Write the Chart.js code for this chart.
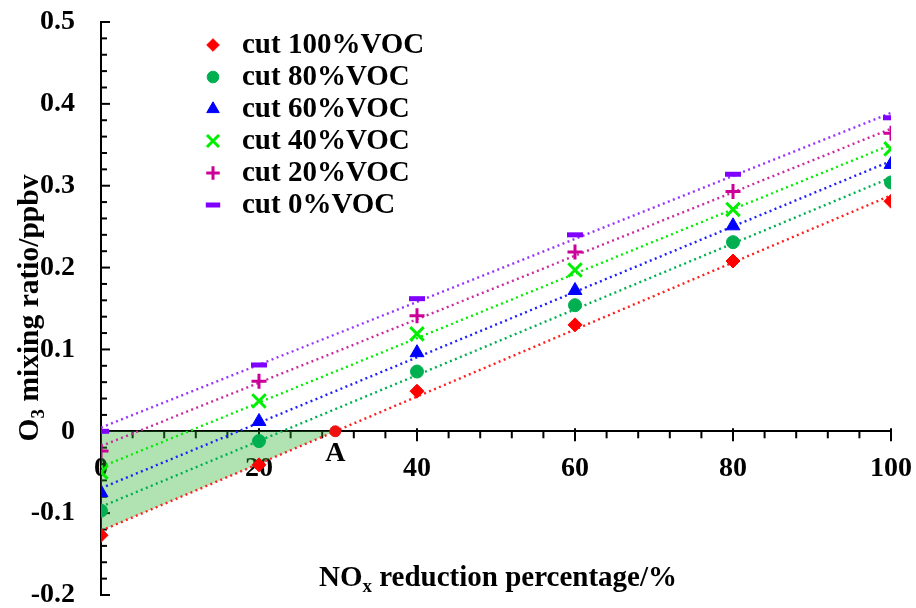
<!DOCTYPE html>
<html><head><meta charset="utf-8">
<script src="https://cdn.jsdelivr.net/npm/chart.js@4"></script>
<style>html,body{margin:0;padding:0;background:#fff}#wrap{width:916px;height:608px}</style>
</head><body><div id="wrap"><canvas id="c" width="916" height="608"></canvas></div>
<script>
// ---- data ----
const noxReduction = [0, 20, 40, 60, 80, 100];
const seriesNames = ['cut 100%VOC', 'cut 80%VOC', 'cut 60%VOC', 'cut 40%VOC', 'cut 20%VOC', 'cut 0%VOC'];
const cut100 = [-0.127, -0.041, 0.049, 0.130, 0.208, 0.281];
const cut80  = [-0.097, -0.012, 0.073, 0.154, 0.231, 0.304];
const cut60  = [-0.075,  0.012, 0.096, 0.172, 0.251, 0.326];
const cut40  = [-0.050,  0.037, 0.119, 0.197, 0.271, 0.345];
const cut20  = [-0.024,  0.061, 0.141, 0.219, 0.293, 0.364];
const cut0   = [ 0.000,  0.081, 0.162, 0.240, 0.314, 0.383];
const xTickStep = 20;
const yTickStep = 0.1;
const pointLabel = 'A';

// ---- styles ----
const FONT = "'Liberation Serif','Times New Roman',serif";
const styles = [
  {color:'#ff0000', line:'#ff2020', pointStyle:'rectRot', radius:7, bw:1},
  {color:'#00b050', line:'#00b050', pointStyle:'circle', radius:6.5, bw:1},
  {color:'#0000ff', line:'#2020ff', pointStyle:'triangle', radius:8, bw:1},
  {color:'#00ee00', line:'#00ee00', pointStyle:'crossRot', radius:9.5, bw:3},
  {color:'#cc0099', line:'#cc2aa0', pointStyle:'cross', radius:7.5, bw:3},
  {color:'#7f00ff', line:'#9933ff', pointStyle:'line', radius:8, bw:5}
];
const allSeries = [cut100, cut80, cut60, cut40, cut20, cut0];

function linearFit(xs, ys){
  const n = xs.length;
  const mx = xs.reduce((a,b)=>a+b,0)/n, my = ys.reduce((a,b)=>a+b,0)/n;
  let sxy=0, sxx=0;
  for(let i=0;i<n;i++){ sxy += (xs[i]-mx)*(ys[i]-my); sxx += (xs[i]-mx)*(xs[i]-mx); }
  const m = sxy/sxx; return {m, b: my - m*mx};
}

const datasets = [];
const fits = allSeries.map(s => linearFit(noxReduction, s));
const redFit = fits[0];
const xA = -redFit.b / redFit.m;

// shaded triangle under zero bounded by the cut 100% trend line
datasets.push({type:'line', data:[{x:0,y:redFit.b},{x:xA,y:0}], fill:'origin',
  backgroundColor:'rgba(40,175,40,0.36)', borderWidth:0, pointRadius:0, order:100});

allSeries.forEach((s, i) => {
  const st = styles[i], f = fits[i];
  const x0 = noxReduction[0], x1 = noxReduction[noxReduction.length-1];
  datasets.push({type:'line', data:[{x:x0,y:f.b+f.m*x0},{x:x1,y:f.b+f.m*x1}],
    borderColor: st.line, borderWidth: 2.4, borderDash:[2,3.4], borderCapStyle:'butt',
    pointRadius:0, fill:false, order:50});
  datasets.push({type:'scatter', label: seriesNames[i], data: noxReduction.map((x,j)=>({x, y:s[j]})),
    showLine:false, pointStyle: st.pointStyle, pointRadius: st.radius, pointHoverRadius: st.radius,
    pointBackgroundColor: st.color, pointBorderColor: st.color, pointBorderWidth: st.bw, order: 20 - i});
});
datasets.push({type:'scatter', data:[{x:xA, y:0}], pointStyle:'circle', pointRadius:5.5,
  pointBackgroundColor:'#ee1111', pointBorderColor:'#ee1111', order:1});

function drawMarker(ctx, st, x, y){
  ctx.save();
  ctx.fillStyle = st.color; ctx.strokeStyle = st.color; ctx.lineWidth = st.bw;
  Chart.helpers.drawPoint(ctx, {pointStyle: st.pointStyle, radius: st.radius * 0.9, rotation:0, borderWidth: st.bw}, x, y);
  ctx.restore();
}

function drawSubText(ctx, parts, cx, cy, size){
  const big = "bold " + size + "px " + FONT, small = "bold " + Math.round(size*0.66) + "px " + FONT;
  let total = 0;
  parts.forEach(p => { ctx.font = p[1] ? small : big; total += ctx.measureText(p[0]).width; });
  let x = cx - total/2;
  ctx.textAlign = 'left'; ctx.textBaseline = 'alphabetic';
  parts.forEach(p => {
    ctx.font = p[1] ? small : big;
    ctx.fillText(p[0], x, cy + (p[1] ? size*0.22 : 0));
    x += ctx.measureText(p[0]).width;
  });
}

const decor = {
  id:'decor',
  beforeDatasetsDraw(chart){
    const ctx = chart.ctx, xs = chart.scales.x, ys = chart.scales.y;
    const left = chart.chartArea.left, y0 = ys.getPixelForValue(0);
    ctx.save(); ctx.strokeStyle = '#000'; ctx.lineWidth = 2;
    for(let k=-10;k<=25;k++){
      const py = ys.getPixelForValue(k*0.02);
      const len = (k%5===0) ? 9 : 6;
      ctx.beginPath(); ctx.moveTo(left, py); ctx.lineTo(left+len, py); ctx.stroke();
    }
    for(let k=0;k<=25;k++){
      const px = xs.getPixelForValue(k*4);
      ctx.beginPath();
      if(k%5===0){ ctx.moveTo(px, y0-3); ctx.lineTo(px, y0+10); }
      else { ctx.moveTo(px, y0); ctx.lineTo(px, y0+7); }
      ctx.stroke();
    }
    ctx.restore();
  },
  afterDraw(chart){
    const ctx = chart.ctx, xs = chart.scales.x, ys = chart.scales.y;
    ctx.save(); ctx.fillStyle = '#000';
    // axis titles
    drawSubText(ctx, [['NO',false],['x',true],[' reduction percentage/%',false]], 498, 586, 29);
    ctx.save(); ctx.translate(38, 308); ctx.rotate(-Math.PI/2);
    drawSubText(ctx, [['O',false],['3',true],[' mixing ratio/ppbv',false]], 0, 0, 29.5);
    ctx.restore();
    // point label
    ctx.font = "bold 28px " + FONT; ctx.textAlign = 'center'; ctx.textBaseline = 'middle';
    ctx.fillText(pointLabel, xs.getPixelForValue(xA), ys.getPixelForValue(0) + 22);
    // legend
    seriesNames.forEach((name, i) => {
      const y = 45 + i*32;
      drawMarker(ctx, styles[i], 213, y);
      ctx.fillStyle = '#000'; ctx.font = "bold 29px " + FONT; ctx.textAlign = 'left'; ctx.textBaseline = 'middle';
      ctx.fillText(name, 242, y + 1);
    });
    ctx.restore();
  }
};

new Chart(document.getElementById('c'), {
  type:'scatter',
  data:{datasets},
  plugins:[decor],
  options:{
    responsive:false, animation:false, devicePixelRatio:1,
    layout:{padding:{left:0, top:22, right:25, bottom:11}},
    plugins:{legend:{display:false}, tooltip:{enabled:false}},
    scales:{
      x:{type:'linear', min:0, max:100, position:{y:0},
        ticks:{stepSize:xTickStep, color:'#000', padding:21, font:{family:FONT, weight:'bold', size:28}},
        grid:{display:false, drawTicks:false}, border:{display:true, color:'#000', width:2},
        afterFit(s){ s.paddingLeft = 0; s.paddingRight = 0; }},
      y:{type:'linear', min:-0.2, max:0.5, position:'left',
        ticks:{stepSize:yTickStep, color:'#000', padding:26, font:{family:FONT, weight:'bold', size:28},
          callback:(v)=>String(Math.round(v*10)/10)},
        grid:{display:false, drawTicks:false}, border:{display:true, color:'#000', width:2},
        afterFit(s){ s.width = 101; s.paddingTop = 0; s.paddingBottom = 0; }}
    }
  }
});
</script></body></html>
